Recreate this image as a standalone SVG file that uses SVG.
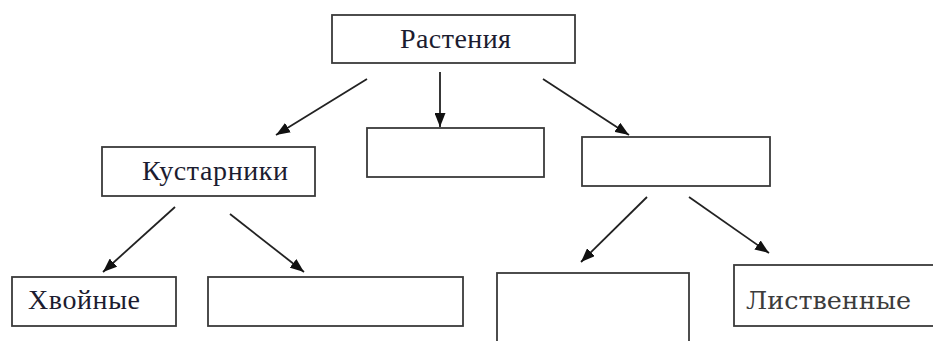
<svg xmlns="http://www.w3.org/2000/svg" width="933" height="341" viewBox="0 0 933 341">
<style>
.box{fill:#fff;stroke:#3a3a3a;stroke-width:1.8}
.t{font-family:"Liberation Serif","Times New Roman",serif;font-size:28px;fill:#1c1c30}
.g{font-family:"DejaVu Serif","Liberation Serif",serif;font-size:24px;fill:#3c3c3c}
.c{stroke:#222;stroke-width:1.8;fill:none;marker-end:url(#ah)}
</style>
<defs>
<marker id="ah" viewBox="0 0 14 11" refX="14" refY="5.5" markerWidth="14" markerHeight="11" markerUnits="userSpaceOnUse" orient="auto">
<path d="M0,0 L14,5.5 L0,11 Z" fill="#111"/>
</marker>
</defs>
<rect width="933" height="341" fill="#fff"/>
<g id="connectors">
<line class="c" x1="367" y1="79" x2="276" y2="135"/>
<line class="c" x1="440" y1="72" x2="440" y2="127"/>
<line class="c" x1="543" y1="79" x2="629" y2="135"/>
<line class="c" x1="175" y1="207" x2="103" y2="272"/>
<line class="c" x1="230" y1="214" x2="304" y2="272"/>
<line class="c" x1="647" y1="197" x2="581" y2="262"/>
<line class="c" x1="689" y1="197" x2="769" y2="253"/>
</g>
<g id="node-rasteniya">
<rect class="box" x="332" y="15" width="243" height="48"/>
<text class="t" x="400" y="48" textLength="111" lengthAdjust="spacing">Растения</text>
</g>
<g id="node-empty-middle">
<rect class="box" x="367" y="128" width="177" height="49"/>
</g>
<g id="node-empty-right">
<rect class="box" x="582" y="137" width="188" height="49"/>
</g>
<g id="node-kustarniki">
<rect class="box" x="102" y="147" width="213" height="49"/>
<text class="t" x="142" y="180" textLength="146" lengthAdjust="spacing">Кустарники</text>
</g>
<g id="node-hvoinye">
<rect class="box" x="12" y="277" width="164" height="49"/>
<text class="t" x="28" y="309" textLength="112" lengthAdjust="spacing">Хвойные</text>
</g>
<g id="node-empty-bottom-left">
<rect class="box" x="208" y="277" width="255" height="49"/>
</g>
<g id="node-empty-tall">
<rect class="box" x="497" y="273" width="192" height="80"/>
</g>
<g id="node-listvennye">
<rect class="box" x="734" y="265" width="210" height="61"/>
<text class="g" x="746" y="309" textLength="165" lengthAdjust="spacingAndGlyphs">Лиственные</text>
</g>
</svg>
